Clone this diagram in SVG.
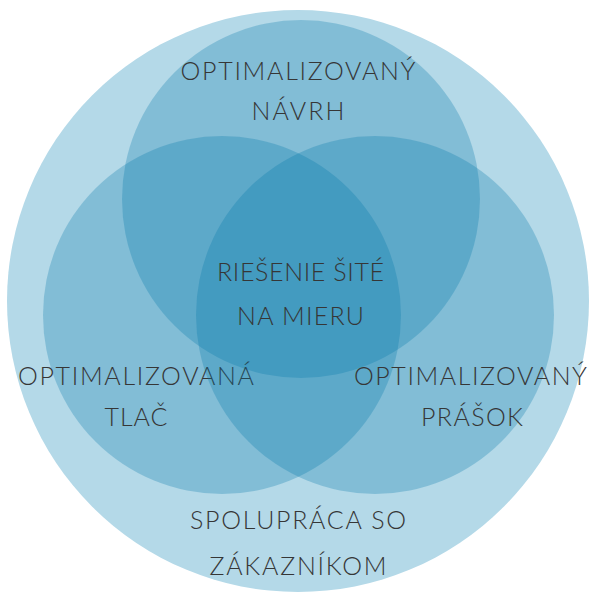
<svg xmlns="http://www.w3.org/2000/svg" width="590" height="593" viewBox="0 0 590 593">
<style>
.outer{fill:#b4d9e8}
.inner{fill:#0075a8;fill-opacity:0.28}
text{font-family:Lato,"Open Sans","Liberation Sans",sans-serif;font-weight:300;font-size:25px;fill:#363636;text-anchor:middle}
</style>
<rect width="590" height="593" fill="#ffffff"/>
<g id="spolupraca">
<circle class="outer" cx="298" cy="301" r="291"/>
<text x="298" y="529" textLength="216" lengthAdjust="spacing">SPOLUPRÁCA SO</text>
<text x="298" y="575" textLength="177" lengthAdjust="spacing">ZÁKAZNÍKOM</text>
</g>
<g id="navrh">
<circle class="inner" cx="301" cy="199" r="179"/>
<text x="298" y="80" textLength="235" lengthAdjust="spacing">OPTIMALIZOVANÝ</text>
<text x="298" y="120" textLength="93" lengthAdjust="spacing">NÁVRH</text>
</g>
<g id="tlac">
<circle class="inner" cx="222" cy="315" r="179"/>
<text x="136" y="385" textLength="236" lengthAdjust="spacing">OPTIMALIZOVANÁ</text>
<text x="136" y="426" textLength="63" lengthAdjust="spacing">TLAČ</text>
</g>
<g id="prasok">
<circle class="inner" cx="375" cy="315" r="179"/>
<text x="470.5" y="385" textLength="233" lengthAdjust="spacing">OPTIMALIZOVANÝ</text>
<text x="472" y="426" textLength="102" lengthAdjust="spacing">PRÁŠOK</text>
</g>
<g id="riesenie">
<text x="300.5" y="281" textLength="167" lengthAdjust="spacing">RIEŠENIE ŠITÉ</text>
<text x="300.5" y="325" textLength="127" lengthAdjust="spacing">NA MIERU</text>
</g>
</svg>
